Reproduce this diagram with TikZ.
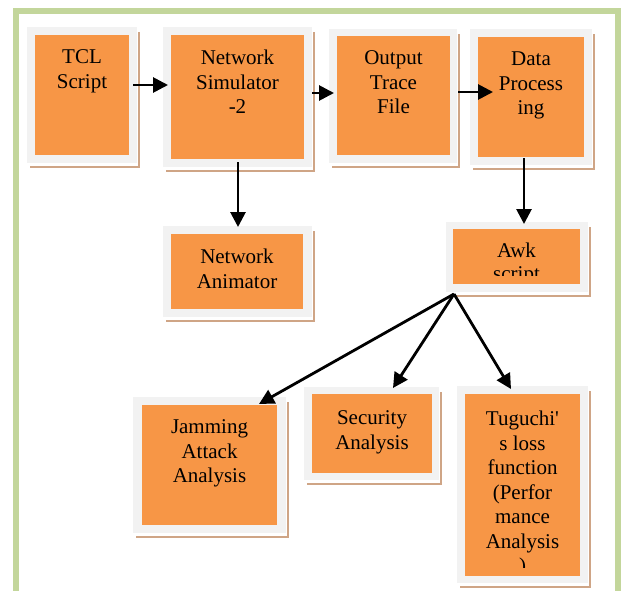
\documentclass[tikz,border=0pt]{standalone}
\usepackage{fontspec}
\setmainfont{Liberation Serif}
\newfontfamily\plainserif{Liberation Serif}
\usetikzlibrary{arrows.meta,fit,calc}
\definecolor{framegreen}{HTML}{C3D69B}
\definecolor{boxorange}{HTML}{F79646}
\definecolor{matgray}{HTML}{F2F2F2}
\definecolor{shadowtan}{HTML}{CFA586}
\tikzset{
  frame/.style={draw=framegreen,line width=6pt},
  core/.style={fill=boxorange,draw=none,inner sep=0pt},
  lbl/.style={font=\fontsize{21}{24.5}\selectfont,align=center,anchor=north,inner sep=0pt},
  arr/.style={line width=2.8pt,-{Triangle[length=15pt,width=15pt]}},
}
% name, gray x1,y1,x2,y2, orange x1,y1,x2,y2
\newcommand\mybox[9]{%
  \fill[shadowtan] (#2+3,#3+5) rectangle (#4+3,#5+5);
  \fill[white] (#2+3,#3+3) rectangle (#4+1,#5+2.5);
  \fill[matgray] (#2,#3) rectangle (#4,#5);
  \node[core,fit={(#6,#7) (#8,#9)}] (#1) {};
}
% name, text
\newcommand\mylabel[2]{%
  \node[lbl] (#1-t) at ($(#1.north)+(0,15)$) {#2};
}
\begin{document}
\begin{tikzpicture}[x=1pt,y=-1pt]
\useasboundingbox (0,0) rectangle (621,591);
\clip (0,0) rectangle (621,591);
\fill[white] (0,0) rectangle (621,591);
\draw[frame] (16,11) rectangle (618,620);

\mybox{tcl}{27}{27}{137}{163}{35}{35}{129}{155}
\mybox{ns}{163}{27}{312}{167}{171}{35}{304}{159}
\mybox{otf}{329}{29}{457}{163}{337}{36}{450}{155}
\mybox{dp}{470}{29}{592}{165}{478}{37}{584}{157}
\mybox{na}{163}{226}{312}{317}{171}{234}{303}{309}
\mybox{awk}{446}{222}{588}{292}{453}{229}{580}{284}
\mybox{ja}{133}{397}{286}{533}{142}{405}{277}{525}
\mybox{sa}{304}{387}{439}{480}{312}{394}{432}{473}
\mybox{tl}{457}{386}{588}{583}{465}{394}{580}{576}

\mylabel{tcl}{TCL\\Script}
\mylabel{ns}{Network\\Simulator\\-2}
\mylabel{otf}{Output\\Trace\\File}
\mylabel{dp}{Data\\Process\\ing}
\mylabel{na}{Network\\Animator}
\begin{scope}
  \clip (awk.north west) rectangle ($(awk.south east)+(0,-9)$);
  \node[lbl,font=\fontsize{21}{22.5}\selectfont] (awk-t) at ($(awk.north)+(0,14)$) {Awk\\script};
\end{scope}
\mylabel{ja}{Jamming\\Attack\\Analysis}
\node[lbl] (sa-t) at ($(sa.north)+(0,17)$) {Security\\Analysis};
\begin{scope}
  \clip (tl.north west) rectangle ($(tl.south east)+(0,-9)$);
  \node[lbl] (tl-t) at ($(tl.north)+(0,17)$) {Tuguchi{\plainserif'}\\s loss\\function\\(Perfor\\mance\\Analysis\\)};
\end{scope}

\coordinate (a1s) at (133,85);
\coordinate (a1e) at (168,85);
\draw[arr] (a1s) -- (a1e);
\coordinate (a2s) at (312,93);
\coordinate (a2e) at (334,93);
\draw[arr] (a2s) -- (a2e);
\coordinate (a3s) at (458,92);
\coordinate (a3e) at (493,92);
\draw[arr] (a3s) -- (a3e);
\coordinate (a4s) at (238,162);
\coordinate (a4e) at (238,227);
\draw[arr] (a4s) -- (a4e);
\coordinate (a5s) at (524,158);
\coordinate (a5e) at (524,224);
\draw[arr] (a5s) -- (a5e);
\coordinate (fan) at (454,294);
\coordinate (jt) at (259,404);
\coordinate (st) at (393,388);
\coordinate (tt) at (511,389);
\draw[arr] (fan) -- (jt);
\draw[arr] (fan) -- (st);
\draw[arr] (fan) -- (tt);
\end{tikzpicture}
\end{document}
